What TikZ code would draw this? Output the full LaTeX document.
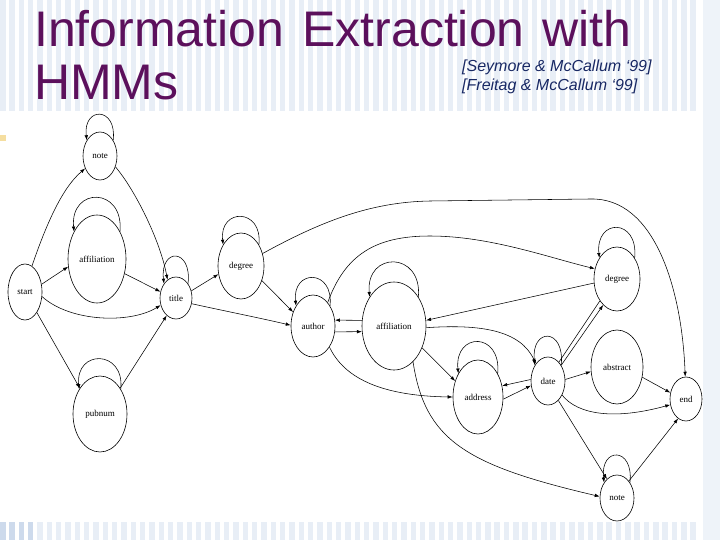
\documentclass[tikz,border=0pt]{standalone}
\usepackage{fontspec}
\setmainfont{Liberation Serif}
\newfontfamily\titlefont{Liberation Sans}
\usetikzlibrary{shapes.geometric,arrows.meta}
\definecolor{titlepurple}{RGB}{92,16,92}
\definecolor{citeblue}{RGB}{24,40,100}
\definecolor{stripe}{RGB}{232,238,246}
\definecolor{stripedark}{RGB}{205,218,236}
\definecolor{sidebar}{RGB}{238,243,249}
\definecolor{bulletcol}{RGB}{245,222,160}
\tikzset{
  state/.style={ellipse, draw, line width=0.6pt, inner sep=0pt, font=\fontsize{9}{10}\selectfont},
  edge/.style={line width=0.55pt, -{Latex[length=5pt,width=3.5pt]}},
  plainedge/.style={line width=0.55pt},
  titletext/.style={anchor=base west, inner sep=0pt, text=titlepurple, font=\titlefont\fontsize{50}{60}\selectfont},
  citetext/.style={anchor=base west, inner sep=0pt, text=citeblue, font=\titlefont\itshape\fontsize{16}{18}\selectfont},
}
\newcommand\selfloop[2]{\draw[edge] (#1.50) .. controls +(4,-#2) and +(-4,-#2) .. (#1.130);}
\begin{document}
\begin{tikzpicture}[x=1pt,y=-1pt]
\useasboundingbox (0,0) rectangle (720,540);
% background
\fill[white] (0,0) rectangle (720,540);
\foreach \i in {0,...,74} { \fill[stripe] ({\i*9.33},0) rectangle ({\i*9.33+5.5},111); }
\foreach \i in {0,...,3} { \fill[stripedark] ({\i*9.33},522) rectangle ({\i*9.33+5.5},540); }
\foreach \i in {4,...,74} { \fill[stripe] ({\i*9.33},522) rectangle ({\i*9.33+5.5},540); }
\fill[sidebar] (703,0) rectangle (720,540);
\fill[bulletcol] (0,135) rectangle (6,141);
% title
\node[titletext] (t1) at (34,47) {Information\hspace{18pt}Extraction\hspace{18pt}with};
\node[titletext] (t2) at (34,100) {HMMs};
\node[citetext] (c1) at (462,72) {[Seymore \& McCallum ‘99]};
\node[citetext] (c2) at (462,91) {[Freitag \& McCallum ‘99]};
% states
\node[state, minimum width=34, minimum height=48] (note1) at (100,156) {note};
\node[state, minimum width=58, minimum height=88] (affL) at (97,259) {affiliation};
\node[state, minimum width=34, minimum height=56] (start) at (25,292) {start};
\node[state, minimum width=32, minimum height=42] (title) at (176,298) {title};
\node[state, minimum width=54, minimum height=76] (pubnum) at (100,414) {pubnum};
\node[state, minimum width=46, minimum height=66] (degL) at (241,266) {degree};
\node[state, minimum width=44, minimum height=62] (author) at (313,326) {author};
\node[state, minimum width=64, minimum height=88] (affM) at (394,326) {affiliation};
\node[state, minimum width=50, minimum height=74] (address) at (478,397) {address};
\node[state, minimum width=34, minimum height=48] (date) at (548,381) {date};
\node[state, minimum width=46, minimum height=64] (degR) at (617,279) {degree};
\node[state, minimum width=52, minimum height=74] (abstract) at (617,367) {abstract};
\node[state, minimum width=32, minimum height=44] (end) at (686,399) {end};
\node[state, minimum width=34, minimum height=46] (note2) at (617,498) {note};
% self loops
\selfloop{note1}{34}
\selfloop{affL}{45}
\selfloop{title}{36}
\selfloop{pubnum}{40}
\selfloop{degL}{37}
\selfloop{author}{37}
\selfloop{affM}{46}
\selfloop{address}{42}
\selfloop{date}{38}
\selfloop{degR}{40}
\selfloop{note2}{36}
% edges
\draw[edge] (start.75) .. controls (46,225) and (62,188) .. (note1.220);
\draw[edge] (start.25) -- (affL.195);
\draw[edge] (start.-15) .. controls (70,322) and (130,324) .. (title.205);
\draw[edge] (start.-60) -- (pubnum.128);
\draw[edge] (note1.-35) .. controls (135,190) and (160,240) .. (title.115);
\draw[edge] (affL.-28) -- (title.158);
\draw[edge] (pubnum.52) -- (title.-118);
\draw[edge] (title.25) -- (degL.200);
\draw[edge] (title.-20) .. controls (220,310) and (260,318) .. (author.178);
\draw[edge] (degL.-35) -- (author.145);
\draw[edge] (degL.30) .. controls (320,222) and (370,202) .. (430,201) -- (590,199) .. controls (655,197) and (682,290) .. (end.92);
\draw[edge] (author.58) .. controls (345,255) and (375,236) .. (430,236) .. controls (490,236) and (550,258) .. (degR.155);
\draw[edge] (affM.170) -- (author.15);
\draw[edge] (author.-15) -- (affM.-170);
\draw[edge] (author.-52) .. controls (345,380) and (385,396) .. (address.180);
\draw[edge] (degR.190) -- (affM.10);
\draw[edge] (affM.-3) .. controls (480,324) and (520,330) .. (date.125);
\draw[edge] (affM.-38) -- (address.145);
\draw[edge] (affM.-62) .. controls (425,440) and (465,465) .. (note2.175);
\draw[edge] (date.175) -- (address.25);
\draw[edge] (address.-5) -- (date.-165);
\draw[edge] (date.50) -- (degR.-118);
\draw[plainedge] (date.60) -- (degR.-128);
\draw[edge] (date.5) -- (abstract.190);
\draw[edge] (abstract.-22) -- (end.158);
\draw[edge] (date.-45) .. controls (578,415) and (615,420) .. (end.-160);
\draw[edge] (date.-62) -- (note2.118);
\draw[edge] (note2.55) -- (end.-112);
\end{tikzpicture}
\end{document}
